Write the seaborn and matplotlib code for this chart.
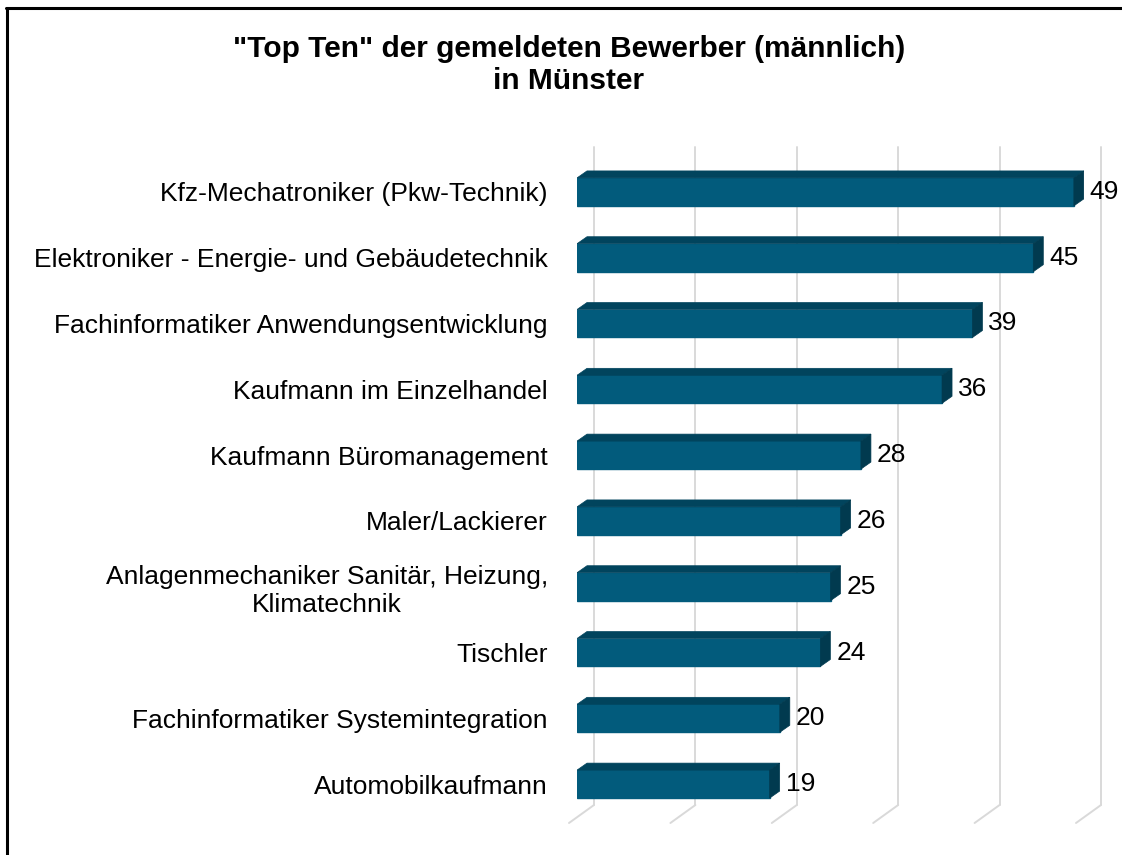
# "Top Ten" Bewerber chart - horizontal bars with a flat 3D look
import matplotlib
matplotlib.use("Agg")
import matplotlib.pyplot as plt
import seaborn as sns
import numpy as np
from matplotlib.patches import Polygon
from matplotlib.lines import Line2D

# data
berufe = [
    "Kfz-Mechatroniker (Pkw-Technik)",
    "Elektroniker - Energie- und Gebäudetechnik",
    "Fachinformatiker Anwendungsentwicklung",
    "Kaufmann im Einzelhandel",
    "Kaufmann Büromanagement",
    "Maler/Lackierer",
    "Anlagenmechaniker Sanitär, Heizung,\nKlimatechnik",
    "Tischler",
    "Fachinformatiker Systemintegration",
    "Automobilkaufmann",
]
bewerber = [49, 45, 39, 36, 28, 26, 25, 24, 20, 19]
x_ticks = [0, 10, 20, 30, 40, 50]
title = '"Top Ten" der gemeldeten Bewerber (männlich)\nin Münster'

front_col = "#025b7c"
top_col = "#01445d"
side_col = "#013a4f"
grid_col = "#d9d9d9"

sns.set_theme(style="white")
plt.rcParams["font.family"] = ["Liberation Sans", "DejaVu Sans"]

W, H = 1122, 855
fig = plt.figure(figsize=(W / 100, H / 100), dpi=100)
# axes placed in pixels: front plane of the bars
ax_l, ax_r, ax_t, ax_b = 577, 1084, 159, 817
ax = fig.add_axes([ax_l / W, 1 - ax_b / H, (ax_r - ax_l) / W, (ax_b - ax_t) / H])

sns.barplot(x=bewerber, y=berufe, orient="h", color=front_col, width=0.425,
            saturation=1, ax=ax, zorder=3)
ax.set_xlim(0, 50)
ax.set_ylim(9.5, -0.5)

ppx = (ax_r - ax_l) / 50.0   # pixels per x unit
ppy = (ax_b - ax_t) / 10.0   # pixels per category
def dx(px):
    return px / ppx
def dy(px):
    return px / ppy

# bar depth (pixels)
bdx, bdy = 10, 7
for p in ax.patches:
    x0, x1 = p.get_x(), p.get_x() + p.get_width()
    yt, yb = p.get_y(), p.get_y() + p.get_height()
    p.set_edgecolor(front_col)
    top = Polygon([(x0, yt), (x1, yt), (x1 + dx(bdx), yt - dy(bdy)), (x0 + dx(bdx), yt - dy(bdy))],
                  closed=True, facecolor=top_col, edgecolor=top_col, lw=0.5, zorder=3)
    side = Polygon([(x1, yt), (x1 + dx(bdx), yt - dy(bdy)), (x1 + dx(bdx), yb - dy(bdy)), (x1, yb)],
                   closed=True, facecolor=side_col, edgecolor=side_col, lw=0.5, zorder=3)
    ax.add_patch(top)
    ax.add_patch(side)

# gridlines on back wall and floor
back = (dx(17), -dy(12))
front = (dx(-8), dy(6))
for v in x_ticks:
    ax.plot([v + back[0], v + back[0]], [-0.5 + back[1], 9.5 + back[1]],
            color=grid_col, lw=1.4, zorder=1, clip_on=False)
    ax.plot([v + back[0], v + front[0]], [9.5 + back[1], 9.5 + front[1]],
            color=grid_col, lw=1.4, zorder=1, clip_on=False)

# value labels
for i, v in enumerate(bewerber):
    ax.text(v + dx(16), i, str(v), va="center", ha="left", fontsize=19,
            color="black", zorder=4, clip_on=False)

ax.set_xlabel("")
ax.set_ylabel("")
ax.set_xticks([])
ax.tick_params(axis="y", length=0, pad=21, labelsize=19, colors="black")
for lab in ax.get_yticklabels():
    lab.set_multialignment("center")
sns.despine(ax=ax, left=True, bottom=True)
ax.patch.set_alpha(0)

fig.text(569 / W, 1 - 65 / H, title, ha="center", va="center", fontsize=21.5,
         fontweight="bold", linespacing=1.2, color="black")

# outer frame (only top and left visible in the reference)
fig.add_artist(Line2D([7 / W, 7 / W], [0, 1 - 8 / H], color="black", lw=2.2,
                      transform=fig.transFigure))
fig.add_artist(Line2D([6 / W, 1], [1 - 8 / H, 1 - 8 / H], color="black", lw=2.2,
                      transform=fig.transFigure))

fig.savefig("out.png", dpi=100, facecolor="white")
